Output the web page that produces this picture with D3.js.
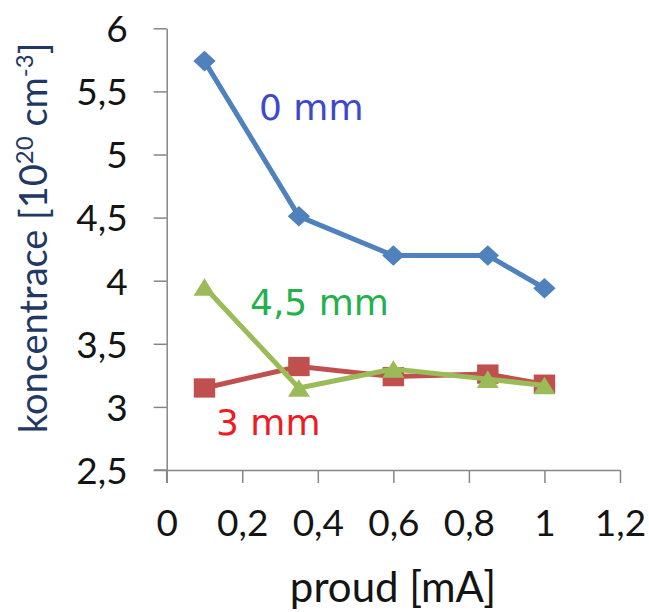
<!DOCTYPE html>
<html><head><meta charset="utf-8">
<script src="https://cdn.jsdelivr.net/npm/d3@7"></script>
<style>
body{margin:0;background:#fff;}
svg{display:block;}
text{font-family:Lato,"Liberation Sans",sans-serif;}
text.lbl{font-family:"DejaVu Sans",sans-serif;}
</style></head>
<body>
<script>
const xValues = [0.1, 0.35, 0.6, 0.85, 1.0];
const s0mm = [5.74, 4.51, 4.20, 4.20, 3.94];
const s3mm = [3.15, 3.32, 3.24, 3.26, 3.18];
const s45mm = [3.95, 3.15, 3.30, 3.22, 3.17];
const xTicks = [0, 0.2, 0.4, 0.6, 0.8, 1, 1.2];
const yTicks = [2.5, 3, 3.5, 4, 4.5, 5, 5.5, 6];
const seriesNames = ["0 mm", "3 mm", "4,5 mm"];

const W = 649, H = 612;
const svg = d3.select("body").append("svg").attr("width", W).attr("height", H);

const x = d3.scaleLinear().domain([0, 1.2]).range([166.7, 620]);
const y = d3.scaleLinear().domain([2.5, 6]).range([470, 28.3]);
const fmt = v => String(v).replace(".", ",");

const axisColor = "#868686";
const tickFont = 37;
// y axis
const ya = svg.append("g").attr("transform", `translate(${x(0)},0)`)
  .call(d3.axisLeft(y).tickValues(yTicks).tickFormat(fmt).tickSize(13).tickSizeOuter(0).tickPadding(26));
ya.select(".domain").attr("stroke", axisColor).attr("stroke-width", 1.5);
ya.selectAll(".tick line").attr("stroke", axisColor).attr("stroke-width", 1.5);
ya.selectAll(".tick text").attr("font-size", tickFont).attr("fill", "#141414").attr("dy", "0.36em");
svg.append("line").attr("x1", x(0)).attr("x2", x(0)).attr("y1", y(2.5)).attr("y2", y(2.5) + 13)
  .attr("stroke", axisColor).attr("stroke-width", 1.5);

const xa = svg.append("g").attr("transform", `translate(0,${y(2.5)})`)
  .call(d3.axisBottom(x).tickValues(xTicks).tickFormat(fmt).tickSize(13).tickSizeOuter(0).tickPadding(27));
xa.select(".domain").attr("stroke", axisColor).attr("stroke-width", 1.5);
xa.selectAll(".tick line").attr("stroke", axisColor).attr("stroke-width", 1.5);
xa.selectAll(".tick text").attr("font-size", tickFont).attr("fill", "#141414");
svg.append("line").attr("x1", x(0) - 13).attr("x2", x(0)).attr("y1", y(2.5)).attr("y2", y(2.5))
  .attr("stroke", axisColor).attr("stroke-width", 1.5);

// titles
svg.append("text").attr("x", 393).attr("y", 602).attr("text-anchor", "middle")
  .attr("font-size", 42).attr("fill", "#141414").text("proud [mA]");
const yt = svg.append("text").attr("transform", "translate(47,238) rotate(-90)")
  .attr("text-anchor", "middle").attr("font-size", 38).attr("fill", "#1F3864");
yt.append("tspan").text("koncentrace [10");
yt.append("tspan").attr("font-size", 24).attr("dy", -14).text("20");
yt.append("tspan").attr("dy", 14).text(" cm");
yt.append("tspan").attr("font-size", 24).attr("dy", -14).text("-3");
yt.append("tspan").attr("dy", 14).text("]");

const line = d3.line().x((d, i) => x(xValues[i])).y(d => y(d));
const diamond = {draw(ctx, size){ const r = Math.sqrt(size) / 2 * Math.SQRT2; ctx.moveTo(0,-r*0.92); ctx.lineTo(r,0); ctx.lineTo(0,r*0.92); ctx.lineTo(-r,0); ctx.closePath(); }};
const rect = {draw(ctx, size){ const w = Math.sqrt(size)/2, h = w*0.9; ctx.rect(-w,-h,2*w,2*h); }};
const tri = {draw(ctx, size){ const w = Math.sqrt(size)/2, h = w*0.8; ctx.moveTo(0,-h); ctx.lineTo(w,h); ctx.lineTo(-w,h); ctx.closePath(); }};
const series = [
  {name: seriesNames[0], vals: s0mm, color: "#4F81BD", sym: diamond, size: 250},
  {name: seriesNames[1], vals: s3mm, color: "#C0504D", sym: rect, size: 460},
  {name: seriesNames[2], vals: s45mm, color: "#9BBB59", sym: tri, size: 480},
];
series.forEach(s => {
  svg.append("path").attr("d", line(s.vals)).attr("fill", "none").attr("stroke", s.color)
    .attr("stroke-width", 5).attr("stroke-linejoin", "round");
  svg.selectAll(null).data(s.vals).enter().append("path")
    .attr("d", d3.symbol().type(s.sym).size(s.size))
    .attr("transform", (d, i) => `translate(${x(xValues[i])},${y(d)})`)
    .attr("fill", s.color);
});

// labels
const labels = [
  {text: seriesNames[0], lx: 259, ly: 120, color: "#3F48CC"},
  {text: seriesNames[1], lx: 216, ly: 435, color: "#ED1C24"},
  {text: seriesNames[2], lx: 250, ly: 315, color: "#22B14C"},
];
labels.forEach(l => svg.append("text").attr("class", "lbl").attr("x", l.lx).attr("y", l.ly)
  .attr("font-size", 36).attr("fill", l.color).text(l.text));
</script>
</body></html>
